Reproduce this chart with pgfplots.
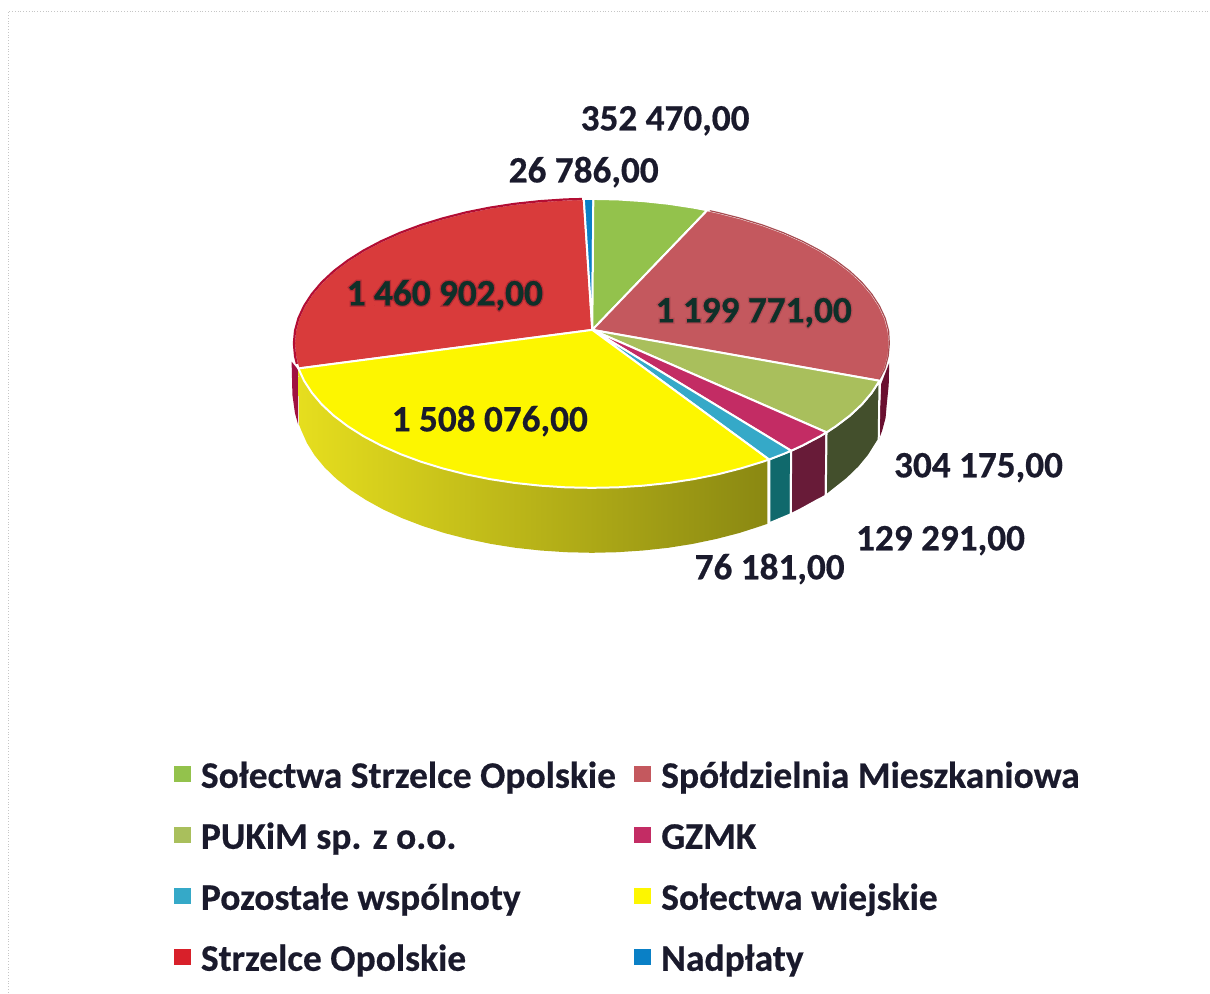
\documentclass[border=0pt]{standalone}
\usepackage{fontspec}
\setmainfont{Carlito}[BoldFeatures={FakeBold=0.5}]
\newfontfamily\halofont{Carlito}[BoldFeatures={FakeBold=8}]
\usepackage{pgfplots}
\pgfplotsset{compat=1.18}
\definecolor{cSO}{HTML}{93C24C}
\definecolor{cSM}{HTML}{C4585E}
\definecolor{cPU}{HTML}{A9BF5C}
\definecolor{cGZ}{HTML}{C32C64}
\definecolor{cPW}{HTML}{35A9C8}
\definecolor{cSW}{HTML}{FDF600}
\definecolor{cST}{HTML}{D93B3B}
\definecolor{cNA}{HTML}{0A80C6}
\definecolor{wPU}{HTML}{434F2C}
\definecolor{wGZ}{HTML}{681B38}
\definecolor{wPW}{HTML}{10696C}
\definecolor{wSM}{HTML}{6A1030}
\definecolor{wST}{HTML}{A01040}
\definecolor{txt}{HTML}{1A1A2C}
\definecolor{txd}{HTML}{0F3029}
\definecolor{Yleft}{HTML}{E6DE1E}
\definecolor{Ymid}{HTML}{BDB52B}
\definecolor{Yright}{HTML}{8A8812}
\definecolor{LegRed}{HTML}{D8202A}
\tikzset{lab/.style={anchor=base west, font=\fontsize{18.6pt}{20pt}\selectfont\bfseries, inner sep=0pt},
  halo/.style={anchor=base west, font=\fontsize{18.6pt}{20pt}\halofont\selectfont\bfseries, inner sep=0pt, text opacity=0.3}}
\begin{document}
\begin{tikzpicture}
\begin{axis}[
  scale only axis, width=605pt, height=496.5pt,
  xmin=0, xmax=1210, ymin=0, ymax=993, y dir=reverse,
  hide axis, clip=false,
  sl/.style={forget plot, draw=white, line width=1pt, line join=round},
  legend columns=2,
  legend cell align=left,
  legend image code/.code={\fill[#1] (0pt,-2pt) rectangle (8pt,5.5pt);},
  legend style={at={(0.1383,0.239)}, anchor=north west, draw=none, fill=none,
    font=\fontsize{18.75pt}{20pt}\selectfont\bfseries\color{txt},
    row sep=12.5pt,
    /tikz/every even column/.append style={column sep=9pt},
    nodes={inner sep=0pt, text height=14pt, text depth=4pt}},
]
\path (rel axis cs:0,0) rectangle (rel axis cs:1,1);
% scan edge
\addplot[forget plot, gray!45, line width=0.4pt, densely dotted] coordinates {(8,993)(8,11.5)(1210,11.5)};
% walls
\addplot[forget plot, fill=wST, draw=none] coordinates {(291.7,361.7)(298.3,370)(298.3,425)(295,413)(292.5,395)(291.7,361.7)};
\addplot[forget plot, fill=wSM, draw=none] coordinates {(889.5,363)(889,385)(887,405)(885.9,417.9)(882.5,430.7)(879,440)(881.5,384)(889.5,363)};
\addplot[sl, shade, draw=none, left color=Yleft, middle color=Ymid, right color=Yright] coordinates {
 (767.5,460.4)(762.9,461.9)(741,468.6)(717.9,474.5)(693.9,479.3)(669.1,483.1)(643.7,485.8)(618,487.5)(592,488)(566,487.5)(540.3,485.8)(514.9,483.1)(490.1,479.3)(466.1,474.5)(443,468.6)(421.1,461.9)(400.4,454.2)(381.3,445.7)(363.7,436.4)(347.9,426.4)(333.9,415.8)(321.9,404.6)(312,392.9)(304.2,380.9)(298.5,368.6)
 (299.2,425)(301.5,430.7)(307.1,443.3)(314.8,455.6)(324.6,467.5)(336.5,479)(350.3,489.9)(366,500.1)(383.4,509.7)(402.4,518.4)(422.8,526.2)(444.5,533.2)(467.3,539.1)(491.1,544.1)(515.7,548)(540.8,550.7)(566.3,552.4)(592,553)(617.7,552.4)(643.2,550.7)(668.3,548)(692.9,544.1)(716.7,539.1)(739.5,533.2)(761.2,526.2)(767.5,524)(767.5,460.4)};
\addplot[sl, fill=wPW] coordinates {(769.5,459.5)(791.4,450.9)(791,514.5)(781.6,518.4)(769.5,523.5)(769.5,459.5)};
\addplot[sl, fill=wGZ] coordinates {(791.4,450.9)(802.7,445.7)(820.3,436.4)(826.8,432.5)(826,496)(818,500.1)(800.6,509.7)(791,514.5)(791.4,450.9)};
\addplot[sl, fill=wPU] coordinates {(826.8,432.5)(836.1,426.4)(850.1,415.8)(862.1,404.6)(872,392.9)(879.8,380.9)(879,440)(876.9,443.3)(869.2,455.6)(859.4,467.5)(847.5,479)(833.7,489.9)(826,496)(826.8,432.5)};
% top of the pie
\addplot[sl, fill=cST] coordinates {(592.5,330)(298.5,368.6)(295.1,356.1)(294,343.5)(295.1,330.9)(298.5,318.4)(304.2,306.1)(312,294.1)(321.9,282.4)(333.9,271.2)(347.9,260.6)(363.7,250.6)(381.3,241.3)(400.4,232.8)(421.1,225.1)(443,218.4)(466.1,212.5)(490.1,207.7)(514.9,203.9)(540.3,201.2)(566,199.5)(584,199)(592.5,330)};
\addplot[sl, fill=cNA] coordinates {(592.5,330)(584,199)(593.5,199)(592.5,330)};
\addplot[sl, fill=cSO] coordinates {(592.5,330)(593.5,199)(618,199.5)(643.7,201.2)(669.1,203.9)(693.9,207.7)(707.5,210.3)(592.5,330)};
\addplot[sl, fill=cSM] coordinates {(592.5,330)(707.5,210.3)(717.9,212.5)(741,218.4)(762.9,225.1)(783.6,232.8)(802.7,241.3)(820.3,250.6)(836.1,260.6)(850.1,271.2)(862.1,282.4)(872,294.1)(879.8,306.1)(885.5,318.4)(888.9,330.9)(890,343.5)(888.9,356.1)(885.5,368.6)(879.8,380.9)(592.5,330)};
\addplot[sl, fill=cPU] coordinates {(592.5,330)(879.8,380.9)(872,392.9)(862.1,404.6)(850.1,415.8)(836.1,426.4)(826.8,432.5)(592.5,330)};
\addplot[sl, fill=cGZ] coordinates {(592.5,330)(826.8,432.5)(820.3,436.4)(802.7,445.7)(791.4,450.9)(592.5,330)};
\addplot[sl, fill=cPW] coordinates {(592.5,330)(791.4,450.9)(783.6,454.2)(769.3,459.7)(592.5,330)};
\addplot[sl, fill=cSW] coordinates {(592.5,330)(769.3,459.7)(762.9,461.9)(741,468.6)(717.9,474.5)(693.9,479.3)(669.1,483.1)(643.7,485.8)(618,487.5)(592,488)(566,487.5)(540.3,485.8)(514.9,483.1)(490.1,479.3)(466.1,474.5)(443,468.6)(421.1,461.9)(400.4,454.2)(381.3,445.7)(363.7,436.4)(347.9,426.4)(333.9,415.8)(321.9,404.6)(312,392.9)(304.2,380.9)(298.5,368.6)(592.5,330)};
% darker rims
\addplot[forget plot, color=wST!80!red, line width=1.1pt, line join=round] coordinates {(297,364)(295.1,356.1)(294,343.5)(295.1,330.9)(298.5,318.4)(304.2,306.1)(312,294.1)(321.9,282.4)(333.9,271.2)(347.9,260.6)(363.7,250.6)(381.3,241.3)(400.4,232.8)(421.1,225.1)(443,218.4)(466.1,212.5)(490.1,207.7)(514.9,203.9)(540.3,201.2)(566,199.5)(582,199.1)};
\addplot[forget plot, color=cSM!85!black, line width=0.6pt, line join=round] coordinates {(710,210.8)(717.9,212.5)(741,218.4)(762.9,225.1)(783.6,232.8)(802.7,241.3)(820.3,250.6)(836.1,260.6)(850.1,271.2)(862.1,282.4)(872,294.1)(879.8,306.1)(885.5,318.4)(888.9,330.9)(889.6,343.5)(888.5,356.1)(885.2,368.6)(879.5,379.5)};
% value labels
\node[lab, text=txt] at (axis cs:580.5,130.5) {352 470,00};
\node[lab, text=txt] at (axis cs:508.5,182.5) {26 786,00};
\node[halo, text=wST!60!black] at (axis cs:346.5,305.5) {1 460 902,00};
\node[lab, text=txd] at (axis cs:346.5,305.5) {1 460 902,00};
\node[halo, text=wST!50!black, text opacity=0.15] at (axis cs:655.5,322.5) {1 199 771,00};
\node[lab, text=txd] at (axis cs:655.5,322.5) {1 199 771,00};
\node[lab, text=txt] at (axis cs:391.5,431.5) {1 508 076,00};
\node[lab, text=txt] at (axis cs:894,477.5) {304 175,00};
\node[lab, text=txt] at (axis cs:856,550.5) {129 291,00};
\node[lab, text=txt] at (axis cs:694.5,579.5) {76 181,00};
% legend
\addlegendimage{cSO}\addlegendentry{\hspace{1pt}\ Sołectwa Strzelce Opolskie}
\addlegendimage{cSM}\addlegendentry{\hspace{1pt}\ Spółdzielnia Mieszkaniowa}
\addlegendimage{cPU}\addlegendentry{\hspace{1pt}\ PUKiM sp. z o.o.}
\addlegendimage{cGZ}\addlegendentry{\hspace{1pt}\ GZMK}
\addlegendimage{cPW}\addlegendentry{\hspace{1pt}\ Pozostałe wspólnoty}
\addlegendimage{cSW}\addlegendentry{\hspace{1pt}\ Sołectwa wiejskie}
\addlegendimage{LegRed}\addlegendentry{\hspace{1pt}\ Strzelce Opolskie}
\addlegendimage{cNA}\addlegendentry{\hspace{1pt}\ Nadpłaty}
\end{axis}
\end{tikzpicture}
\end{document}
